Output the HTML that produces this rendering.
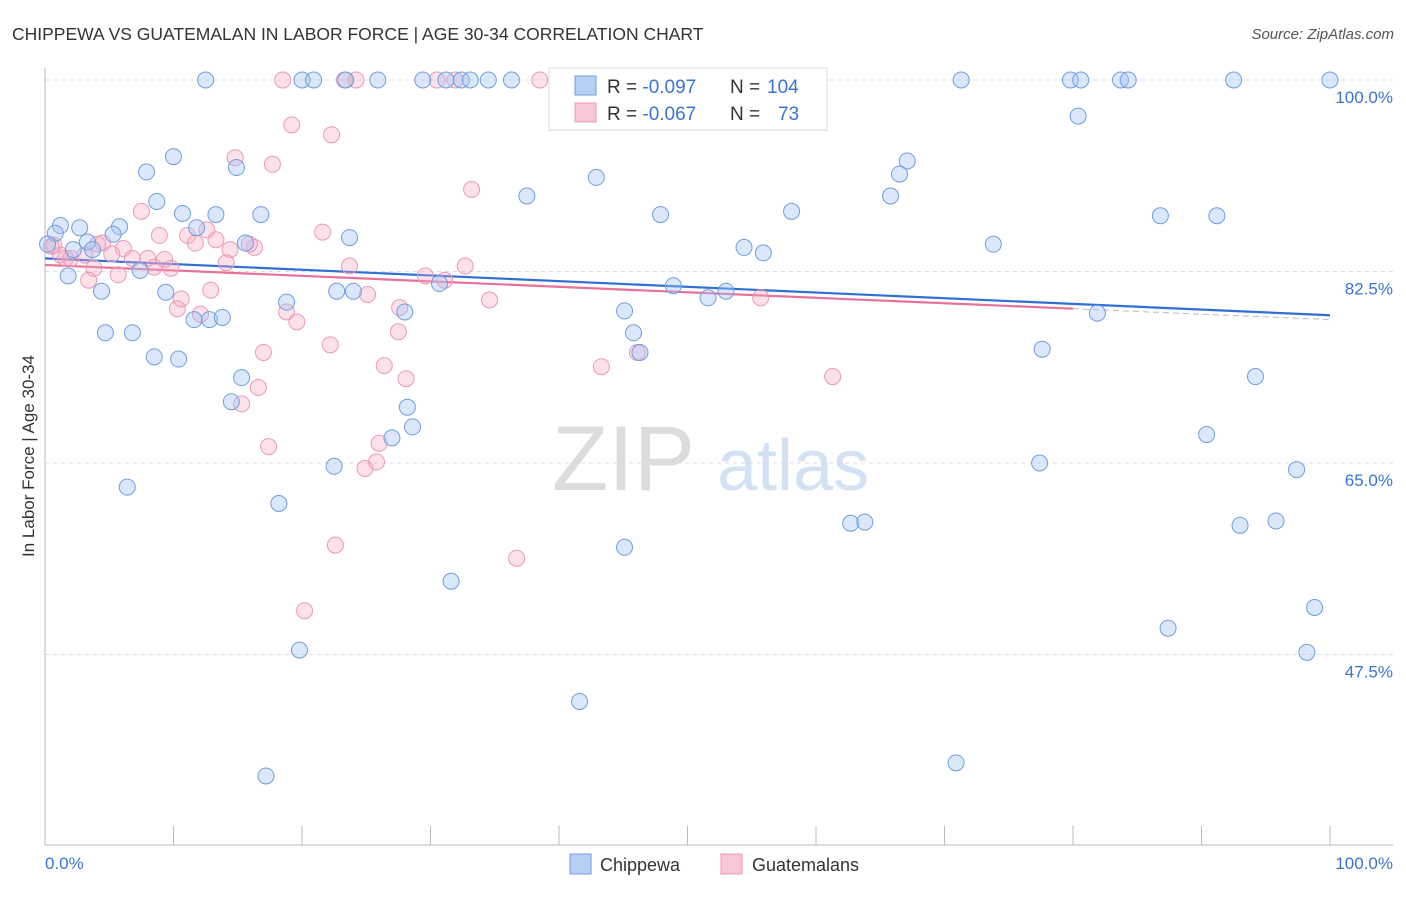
<!DOCTYPE html>
<html><head><meta charset="utf-8">
<style>
body{margin:0;background:#fff;font-family:"Liberation Sans",sans-serif;}
svg text{font-family:"Liberation Sans",sans-serif;}
</style></head>
<body>
<svg id="chart" width="1406" height="892" viewBox="0 0 1406 892" xmlns="http://www.w3.org/2000/svg">
<text x="12" y="40" font-size="17.5" fill="#333">CHIPPEWA VS GUATEMALAN IN LABOR FORCE | AGE 30-34 CORRELATION CHART</text>
<text x="1394" y="39" font-size="15" fill="#555" text-anchor="end" font-style="italic">Source: ZipAtlas.com</text>
<g>
<text x="552" y="490" font-size="92" fill="#dcdcdc" font-family="Liberation Serif,serif">ZIP</text>
<text x="717" y="490" font-size="72" fill="#d3e1f3">atlas</text>
</g>
<g id="grid"></g>
<g id="axes"></g>
<g id="trend"></g>
<g id="pts"></g>
<text transform="translate(34,456) rotate(-90)" font-size="17" fill="#333" text-anchor="middle">In Labor Force | Age 30-34</text>
<text x="45" y="869" font-size="17" fill="#3b74d0">0.0%</text>
<text x="1393" y="869" font-size="17" fill="#3b74d0" text-anchor="end">100.0%</text>
<g>
<rect x="549" y="68" width="278" height="62" fill="#fff" stroke="#ddd"/>
<rect x="575" y="76" width="21" height="19" fill="#b6cff4" stroke="#6f9ee0"/>
<rect x="575" y="103" width="21" height="19" fill="#f9c6d6" stroke="#e99ab4"/>
<text x="607" y="93" font-size="19" fill="#333">R = <tspan fill="#3b74d0">-0.097</tspan></text>
<text x="730" y="93" font-size="19" fill="#333">N = </text>
<text x="767" y="93" font-size="19" fill="#3b74d0">104</text>
<text x="607" y="120" font-size="19" fill="#333">R = <tspan fill="#3b74d0">-0.067</tspan></text>
<text x="730" y="120" font-size="19" fill="#333">N = </text>
<text x="778" y="120" font-size="19" fill="#3b74d0">73</text>
</g>
<g>
<rect x="570" y="854" width="21" height="20" fill="#b6cff4" stroke="#6f9ee0"/>
<text x="600" y="871" font-size="18" fill="#333">Chippewa</text>
<rect x="721" y="854" width="21" height="20" fill="#f9c6d6" stroke="#e99ab4"/>
<text x="752" y="871" font-size="18" fill="#333">Guatemalans</text>
</g>
</svg>
<script>
const yTicks=[100,82.5,65,47.5];
const yTickLabels=["100.0%","82.5%","65.0%","47.5%"];
const blueX=[12.5,20.0,20.9,23.4,25.9,29.4,31.2,32.4,33.1,34.5,36.3,43.6,49.8,59.1,71.3,79.8,80.6,83.7,84.3,92.5,100,
80.4,10.0,14.9,7.9,67.1,66.5,42.9,37.5,65.8,8.7,58.1,10.7,13.3,16.8,47.9,86.8,91.2,1.2,2.7,5.8,0.8,5.3,11.8,23.7,3.3,15.6,0.2,54.4,73.8,55.9,3.7,2.2,7.4,1.8,48.9,9.4,22.7,24.0,30.7,4.4,53.0,51.6,18.8,28.0,45.1,81.9,11.6,12.8,13.8,4.7,6.8,45.8,46.3,77.6,8.5,10.4,15.3,94.2,14.5,28.2,28.6,27.0,90.4,22.5,77.4,97.4,6.4,18.2,62.7,63.8,95.8,93.0,45.1,31.6,98.8,87.4,19.8,98.2,41.6,70.9,17.2];
const blueY=[100,100,100,100,100,100,100,100,100,100,100,100,100,100,100,100,100,100,100,100,100,
96.7,93.0,92.0,91.6,92.6,91.4,91.1,89.4,89.4,88.9,88.0,87.8,87.7,87.7,87.7,87.6,87.6,86.7,86.5,86.6,86.0,85.9,86.5,85.6,85.2,85.1,85.0,84.7,85.0,84.2,84.5,84.5,82.6,82.1,81.2,80.6,80.7,80.7,81.4,80.7,80.7,80.1,79.7,78.8,78.9,78.7,78.1,78.1,78.3,76.9,76.9,76.9,75.1,75.4,74.7,74.5,72.8,72.9,70.6,70.1,68.3,67.3,67.6,64.7,65.0,64.4,62.8,61.3,59.5,59.6,59.7,59.3,57.3,54.2,51.8,49.9,47.9,47.7,43.2,37.6,36.4];
const pinkX=[18.5,23.3,24.2,30.5,31.9,38.5,54.3,19.2,22.3,14.8,17.7,33.2,7.5,21.6,8.9,11.1,12.6,13.3,11.7,14.4,16.3,15.9,0.7,1.2,1.6,2.0,3.1,4.1,4.5,6.1,5.2,6.8,8.0,8.5,9.3,9.8,3.8,3.4,5.7,14.1,23.7,29.6,32.7,31.1,25.1,12.9,10.6,10.3,12.1,18.8,19.6,34.6,55.7,27.6,22.2,17.0,27.5,26.4,28.1,43.3,46.1,61.3,16.6,15.3,17.4,26.0,25.8,24.9,22.6,36.7,20.2,0.5];
const pinkY=[100,100,100,100,100,100,100,95.9,95.0,92.9,92.3,90.0,88.0,86.1,85.8,85.8,86.3,85.4,85.1,84.5,84.7,85.0,84.9,84.0,83.7,83.7,84.0,85.0,85.1,84.6,84.1,83.7,83.7,82.9,83.6,82.8,82.8,81.7,82.2,83.3,83.0,82.1,83.0,81.7,80.4,80.8,80.0,79.1,78.6,78.8,77.9,79.9,80.1,79.2,75.8,75.1,77.0,73.9,72.7,73.8,75.1,72.9,71.9,70.4,66.5,66.8,65.1,64.5,57.5,56.3,51.5,84.8];
const blueTrend=[83.7,78.5];
const pinkTrend=[83.1,79.1,78.1];
const NS="http://www.w3.org/2000/svg";
function X(v){return 45+v*12.85;}
function Y(v){return 80+(100-v)*10.943;}
function mk(tag,attrs,parent){const e=document.createElementNS(NS,tag);for(const k in attrs)e.setAttribute(k,attrs[k]);document.getElementById(parent).appendChild(e);return e;}
yTicks.forEach((t,i)=>{
  const g=mk('line',{x1:45,x2:1393,y1:Y(t),y2:Y(t),stroke:'#dcdcdc','stroke-dasharray':'4,4'},'grid');
  
  
  const l=mk('text',{x:1393,y:Y(t)+23,'font-size':17,fill:'#3b74d0','text-anchor':'end'},'grid');
  l.textContent=yTickLabels[i];
  
  
});
const ax=mk('line',{x1:45,x2:45,y1:68,y2:845,stroke:'#bbb'},'axes');


const bx=mk('line',{x1:45,x2:1393,y1:845,y2:845,stroke:'#bbb'},'axes');


for(let i=0;i<=10;i++){
  const t=mk('line',{x1:X(i*10),x2:X(i*10),y1:826,y2:845,stroke:'#bbb'},'axes');
  
  
}
const bt=mk('line',{x1:X(0),y1:Y(blueTrend[0]),x2:X(100),y2:Y(blueTrend[1]),stroke:'#2f6fd6','stroke-width':2.2},'trend');


const pt=mk('line',{x1:X(0),y1:Y(pinkTrend[0]),x2:X(80),y2:Y(pinkTrend[1]),stroke:'#e8719a','stroke-width':2.2},'trend');


const pd=mk('line',{x1:X(80),y1:Y(pinkTrend[1]),x2:X(100),y2:Y(pinkTrend[2]),stroke:'#bbb','stroke-width':1,'stroke-dasharray':'6,4'},'trend');


pinkX.forEach((x,i)=>{
  const c=mk('circle',{cx:X(x),cy:Y(pinkY[i]),r:8,fill:'rgba(246,170,196,0.35)',stroke:'#e99ab4','stroke-width':1},'pts');
  
  
});
blueX.forEach((x,i)=>{
  const c=mk('circle',{cx:X(x),cy:Y(blueY[i]),r:8,fill:'rgba(164,194,244,0.4)',stroke:'#6f9ee0','stroke-width':1},'pts');
  
  
});
</script>
</body></html>
